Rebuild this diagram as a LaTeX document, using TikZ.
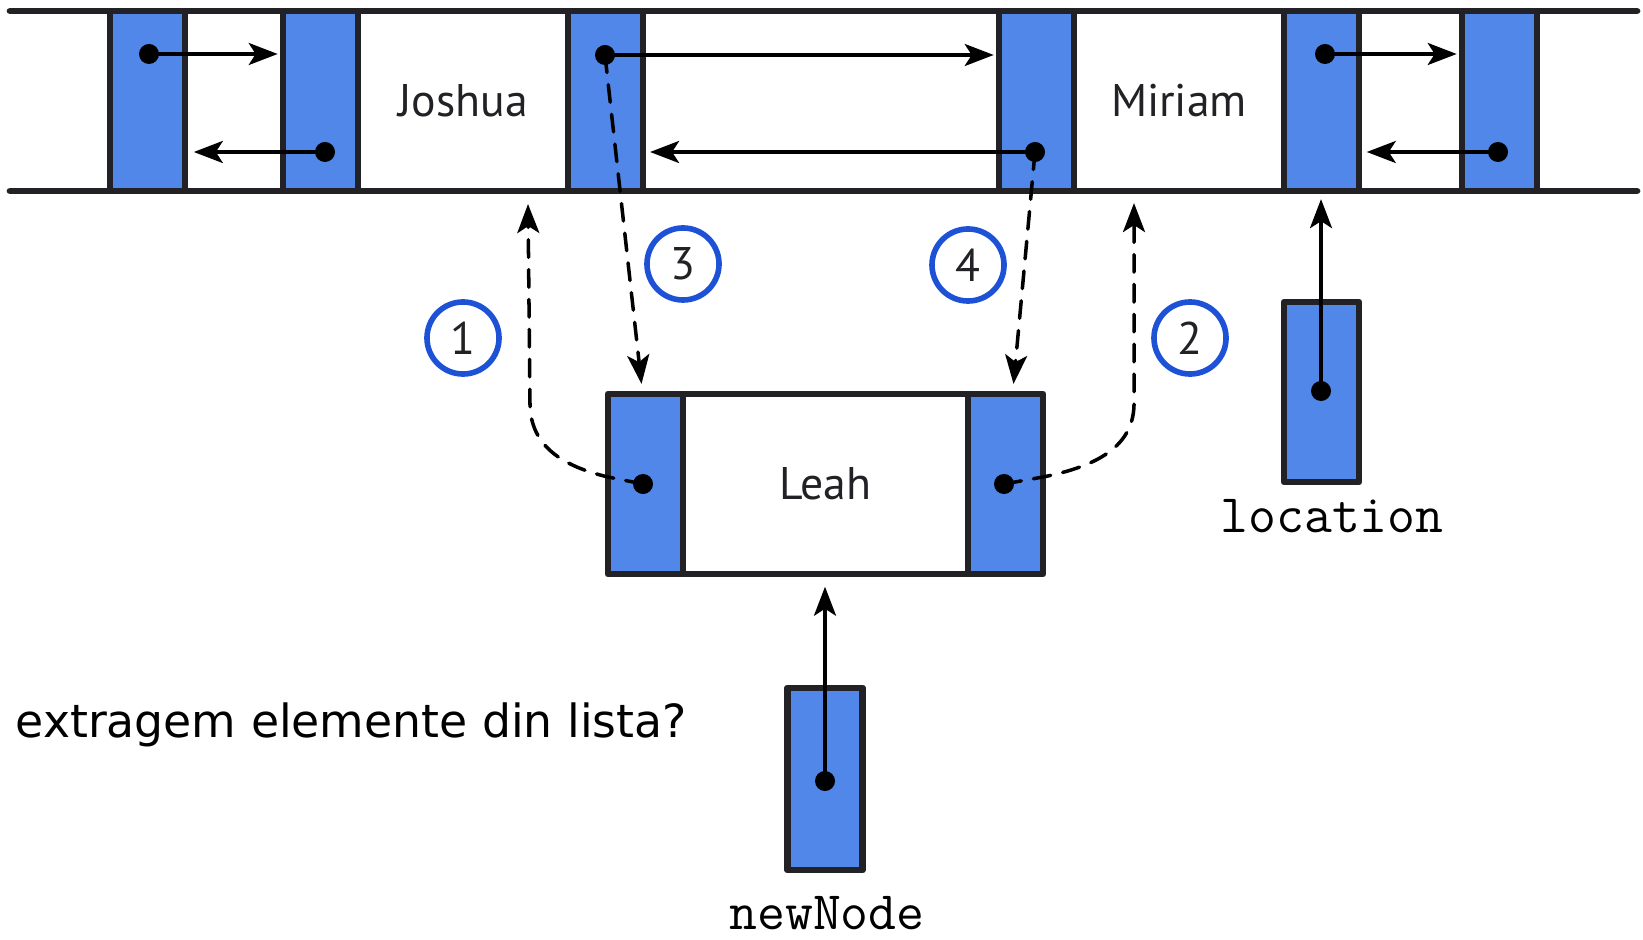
\documentclass[tikz,border=0pt]{standalone}
\usepackage{fontspec}
\setmainfont{PT Sans}
\newfontfamily\notefont{DejaVu Sans}
\usetikzlibrary{arrows.meta,calc}

\definecolor{cellblue}{RGB}{80,135,232}
\definecolor{rimgray}{RGB}{34,34,38}
\definecolor{ringblue}{RGB}{30,82,214}

\begin{document}
\begin{tikzpicture}[x=0.01cm, y=-0.01cm, line cap=round, line join=round,
  >={Stealth[length=0.29cm, width=0.22cm, inset=0.07cm]},
  cell/.style={draw=rimgray, line width=1.9pt, fill=cellblue, minimum width=0.75cm, minimum height=1.8cm, inner sep=0pt, outer sep=0pt},
  field/.style={draw=rimgray, line width=1.9pt, fill=white, minimum height=1.8cm, inner sep=0pt, outer sep=0pt, text=rimgray, font=\fontsize{13}{15}\selectfont},
  ptr/.style={circle, fill=black, inner sep=0pt, minimum size=0.2cm},
  link/.style={line width=1pt},
  move/.style={line width=1pt, dash pattern=on 5pt off 3.5pt},
  ring/.style={circle, draw=ringblue, line width=1.6pt, minimum size=0.72cm, inner sep=0pt, text=rimgray, font=\fontsize{13}{15}\selectfont},
  tag/.style={anchor=base, font=\ttfamily\fontsize{15.4}{17}\selectfont}]

\useasboundingbox (0,0) rectangle (1643,940);

% the list rails
\draw[rimgray, line width=1.9pt] (10,11) -- (1637,11);
\draw[rimgray, line width=1.9pt] (10,191) -- (1637,191);

% neighbours
\node[cell] (prev) at (147.5,101) {};
\node[cell] (next) at (1499.5,101) {};

% Joshua
\node[cell] (jl) at (320.5,101) {};
\node[field, minimum width=2.1cm] (jn) at (463,101) {Joshua};
\node[cell] (jr) at (605.5,101) {};

% Miriam
\node[cell] (ml) at (1036.5,101) {};
\node[field, minimum width=2.1cm] (mn) at (1179,101) {Miriam};
\node[cell] (mr) at (1321.5,101) {};

% Leah
\node[cell] (ll) at (645.5,484) {};
\node[field, minimum width=2.85cm] (ln) at (825.5,484) {Leah};
\node[cell] (lr) at (1005.5,484) {};

% location and newNode
\node[cell] (loc) at (1321.5,392) {};
\node[cell, minimum height=1.82cm] (nn) at (825,779) {};
\node[tag] (loclbl) at (1332,532) {location};
\node[tag] (nnlbl) at (827,929) {newNode};

% pointers
\node[ptr] (pd) at (149,54) {};
\node[ptr] (jld) at (325,152) {};
\node[ptr] (jrd) at (605,55) {};
\node[ptr] (mld) at (1035,152) {};
\node[ptr] (mrd) at (1325,54) {};
\node[ptr] (nd) at (1498,152) {};
\node[ptr] (lld) at (643,484) {};
\node[ptr] (lrd) at (1004,484) {};
\node[ptr] (locd) at (1321,391) {};
\node[ptr] (nnd) at (825,781) {};

\draw[link,->, shorten >=1.5pt] (pd.center) -- (pd -| jl.west);
\draw[link,->, shorten >=2.5pt] (jld.center) -- (jld -| prev.east);
\draw[link,->, shorten >=1.5pt] (jrd.center) -- (jrd -| ml.west);
\draw[link,->, shorten >=2pt] (mld.center) -- (mld -| jr.east);
\draw[link,->, shorten >=1.5pt] (mrd.center) -- (mrd -| next.west);
\draw[link,->, shorten >=2.2pt] (nd.center) -- (nd -| mr.east);
\draw[link,->, shorten >=2.3pt] (locd.center) -- (locd |- mr.south);
\draw[link,->, shorten >=3.6pt] (nnd.center) -- (nnd |- ln.south);

% the four steps
\coordinate (up1) at ($(jn.south)+(65,13)$);
\coordinate (up2) at ($(mn.south)+(-45,12)$);
\coordinate (dn3) at ($(ll.north)+(-4,-10)$);
\coordinate (dn4) at ($(lr.north)+(8,-10)$);

\draw[move,->] (lld.center) -- (608,477) .. controls (562,466) and (531,446) .. (530,405) -- (up1);
\draw[move,->] (lrd.center) -- (1043,477) .. controls (1098,466) and (1133,446) .. (1134,405) -- (up2);
\draw[move,->] (jrd.center) -- (dn3);
\draw[move,->] (mld.center) -- (dn4);

\node[ring] (r1) at (463,338) {1};
\node[ring] (r2) at (1190,338) {2};
\node[ring] (r3) at (683,264) {3};
\node[ring] (r4) at (968,265) {4};

\node[anchor=base west, inner sep=0pt, font=\notefont\fontsize{13}{15}\selectfont] (ask) at (15,737) {extragem elemente din lista?};

\end{tikzpicture}
\end{document}
